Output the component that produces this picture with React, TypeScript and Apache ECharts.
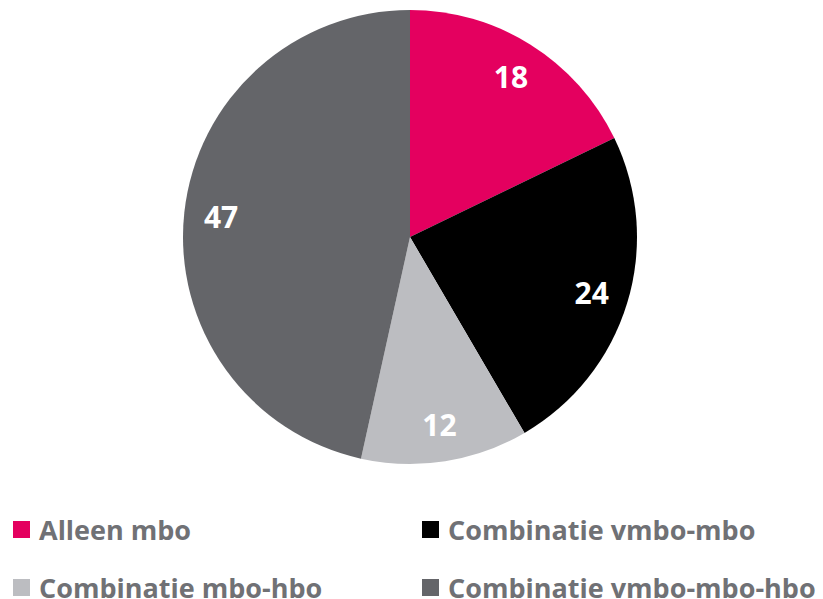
import React, { useEffect, useRef } from "react";
import * as echarts from "echarts";

const categories = ["Alleen mbo", "Combinatie vmbo-mbo", "Combinatie mbo-hbo", "Combinatie vmbo-mbo-hbo"];
const values = [18, 24, 12, 47];
const colors = ["#e4005f", "#000000", "#bcbdc1", "#646569"];
const legendPositions = [
  { left: 13, top: 516 },
  { left: 422, top: 516 },
  { left: 13, top: 574 },
  { left: 422, top: 574 },
];

export default function App() {
  const ref = useRef<HTMLDivElement>(null);
  useEffect(() => {
    if (!ref.current) return;
    const chart = echarts.init(ref.current, undefined, { renderer: "svg" });
    const data = categories.map((name, i) => ({ name, value: values[i], itemStyle: { color: colors[i] } }));
    const legendCommon = {
      orient: "horizontal" as const,
      icon: "rect",
      itemWidth: 17,
      itemHeight: 17,
      padding: 0,
      selectedMode: false,
      textStyle: {
        fontFamily: "Open Sans",
        fontWeight: "bold" as const,
        fontSize: 27,
        lineHeight: 24,
        color: "#707175",
        padding: [0, 0, 0, 4],
      },
    };
    chart.setOption({
      animation: false,
      color: colors,
      legend: categories.map((name, i) => ({
        ...legendCommon,
        data: [name],
        left: legendPositions[i].left,
        top: legendPositions[i].top,
      })),
      series: [
        {
          type: "pie",
          center: [410, 237],
          radius: [0, 227],
          startAngle: 90,
          clockwise: true,
          silent: true,
          label: { show: false },
          labelLine: { show: false },
          data,
        },
        {
          type: "pie",
          center: [410, 237],
          radius: [147, 227],
          startAngle: 90,
          clockwise: true,
          silent: true,
          itemStyle: { color: "rgba(0,0,0,0)" },
          label: {
            show: true,
            position: "inside",
            formatter: "{c}",
            color: "#ffffff",
            fontFamily: "Open Sans",
            fontWeight: "bold",
            fontSize: 30,
          },
          labelLine: { show: false },
          data: categories.map((name, i) => ({ name, value: values[i], itemStyle: { color: "rgba(0,0,0,0)" } })),
        },
      ],
    });
    return () => chart.dispose();
  }, []);
  return (
    <div
      ref={ref}
      style={{ position: "fixed", left: 0, top: 0, width: 823, height: 599, background: "#ffffff" }}
    />
  );
}
